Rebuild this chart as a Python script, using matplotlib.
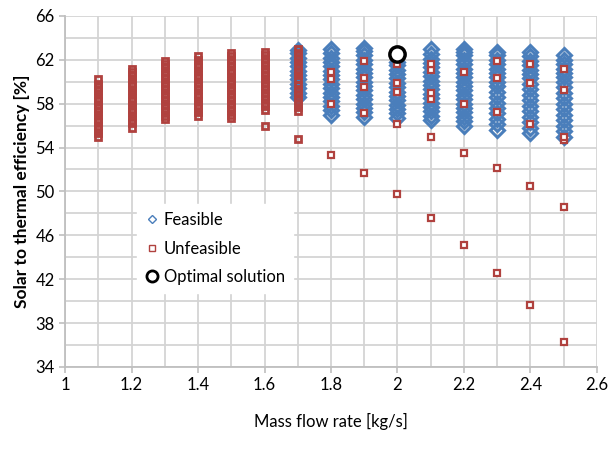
import numpy as np
import matplotlib.pyplot as plt
from matplotlib.lines import Line2D

plt.rcParams['font.family'] = ['Lato', 'DejaVu Sans']

# Mass flow rates [kg/s] of the columns
flow_unf = [1.1, 1.2, 1.3, 1.4, 1.5, 1.6, 1.7, 1.8, 1.9, 2.0, 2.1, 2.2, 2.3, 2.4, 2.5]
flow_feas = [1.7, 1.8, 1.9, 2.0, 2.1, 2.2, 2.3, 2.4, 2.5]

# Unfeasible points (efficiency %), one list per mass flow rate
unf_11 = [55.0, 55.3, 55.7, 56.0, 56.3, 56.6, 57.0, 57.3, 57.6, 57.9, 58.2, 58.5, 58.9, 59.2, 59.5, 59.8, 60.2]
unf_12 = [55.8, 56.2, 56.5, 56.9, 57.2, 57.5, 57.9, 58.2, 58.5, 58.9, 59.2, 59.6, 59.9, 60.2, 60.6, 60.9, 61.2]
unf_13 = [56.6, 56.9, 57.3, 57.6, 57.9, 58.3, 58.6, 58.9, 59.3, 59.6, 59.9, 60.3, 60.6, 60.9, 61.3, 61.6, 61.9]
unf_14 = [56.9, 57.2, 57.6, 57.9, 58.2, 58.6, 58.9, 59.3, 59.6, 59.9, 60.3, 60.6, 61.0, 61.3, 61.6, 62.0, 62.3]
unf_15 = [56.7, 57.0, 57.4, 57.7, 58.0, 58.3, 58.6, 58.9, 59.2, 59.5, 59.8, 60.1, 60.4, 60.8, 61.1, 61.4, 61.7, 62.0, 62.3, 62.6]
unf_16 = [56.0, 57.4, 57.8, 58.1, 58.4, 58.7, 59.0, 59.3, 59.6, 59.9, 60.2, 60.6, 60.9, 61.2, 61.5, 61.8, 62.1, 62.4, 62.7]
unf_17 = [54.8, 57.3, 57.7, 58.1, 58.5, 58.9, 59.3, 59.7, 60.2, 60.6, 61.0, 61.4, 61.8, 62.2, 62.6, 63.0]
unf_18 = [53.3, 58.0, 60.2, 60.9]
unf_19 = [51.7, 57.1, 59.5, 60.3, 61.9]
unf_20 = [49.8, 56.1, 59.1, 59.9, 61.6]
unf_21 = [47.6, 55.0, 58.4, 59.0, 61.1, 61.6]
unf_22 = [45.1, 53.5, 58.0, 60.9]
unf_23 = [42.6, 52.1, 57.2, 60.3, 61.9]
unf_24 = [39.6, 50.5, 56.1, 59.9, 61.6]
unf_25 = [36.3, 48.6, 54.7, 55.0, 59.2, 61.2]

# Feasible points (efficiency %), one list per mass flow rate
feas_17 = [58.6, 59.0, 59.4, 59.8, 60.2, 60.6, 61.0, 61.4, 61.8, 62.2, 62.6, 62.9]
feas_18 = [57.0, 57.4, 57.8, 58.2, 58.6, 59.0, 59.4, 59.8, 60.2, 60.6, 61.0, 61.4, 61.8, 62.2, 62.6, 63.0]
feas_19 = [56.8, 57.2, 57.6, 58.0, 58.4, 58.8, 59.2, 59.6, 60.0, 60.4, 60.8, 61.2, 61.6, 62.0, 62.4, 62.8, 63.1]
feas_20 = [56.7, 57.1, 57.5, 57.9, 58.3, 58.7, 59.1, 59.5, 59.9, 60.3, 60.7, 61.1, 61.5, 61.8]
feas_21 = [56.5, 56.9, 57.3, 57.7, 58.1, 58.5, 58.9, 59.3, 59.7, 60.1, 60.5, 60.9, 61.3, 61.7, 62.1, 62.5, 63.0]
feas_22 = [56.0, 56.4, 56.8, 57.2, 57.6, 58.0, 58.4, 58.8, 59.2, 59.6, 60.0, 60.4, 60.8, 61.2, 61.6, 62.0, 62.4, 62.7, 63.0]
feas_23 = [55.6, 56.1, 56.6, 57.1, 57.6, 58.1, 58.6, 59.1, 59.6, 60.0, 60.4, 60.8, 61.2, 61.6, 62.0, 62.4, 62.7]
feas_24 = [55.3, 55.8, 56.3, 56.8, 57.3, 57.8, 58.3, 58.8, 59.3, 59.8, 60.3, 60.7, 61.1, 61.5, 61.9, 62.3, 62.7]
feas_25 = [55.0, 55.5, 56.0, 56.5, 57.0, 57.5, 58.0, 58.5, 59.0, 59.5, 60.0, 60.4, 60.8, 61.2, 61.6, 62.0, 62.4]

# Optimal solution
opt_flow = [2.0]
opt_eff = [62.5]

unf_cols = [unf_11, unf_12, unf_13, unf_14, unf_15, unf_16, unf_17, unf_18,
            unf_19, unf_20, unf_21, unf_22, unf_23, unf_24, unf_25]
feas_cols = [feas_17, feas_18, feas_19, feas_20, feas_21, feas_22, feas_23, feas_24, feas_25]

blue = '#4a7ebb'
red = '#b0413e'

fig, ax = plt.subplots(figsize=(6.09, 4.53), dpi=100)
fig.subplots_adjust(left=0.107, right=0.980, top=0.965, bottom=0.19)

for x, ys in zip(flow_feas, feas_cols):
    ax.plot([x] * len(ys), ys, linestyle='none', marker='D', markersize=6.8,
            markerfacecolor='none', markeredgecolor=blue, markeredgewidth=2.2)

for x, ys in zip(flow_unf, unf_cols):
    # dense columns blend into a solid bar, sparse ones keep a white centre
    dense = len(ys) > 10
    ax.plot([x] * len(ys), ys, linestyle='none', marker='s', markersize=4.5,
            markerfacecolor='none' if dense else 'white', markeredgecolor=red,
            markeredgewidth=2.0 if dense else 1.6)

ax.plot(opt_flow, opt_eff, linestyle='none', marker='o', markersize=11,
        markerfacecolor='white', markeredgecolor='black', markeredgewidth=2.5)

ax.set_xlim(1, 2.6)
ax.set_ylim(34, 66)
ax.set_xticks(np.arange(1, 2.61, 0.2))
ax.set_xticklabels(['1', '1.2', '1.4', '1.6', '1.8', '2', '2.2', '2.4', '2.6'])
ax.set_xticks(np.arange(1.1, 2.6, 0.2), minor=True)
ax.set_yticks(np.arange(34, 67, 4))
ax.set_yticks(np.arange(36, 66, 4), minor=True)
ax.grid(True, which='both', color='#d4d4d4', linewidth=1.3)
ax.set_axisbelow(True)
ax.tick_params(which='major', labelsize=12, color='#bfbfbf', length=4, width=1.2)
ax.tick_params(which='minor', length=0)
for s in ['top', 'right']:
    ax.spines[s].set_visible(False)
for s in ['left', 'bottom']:
    ax.spines[s].set_color('#bfbfbf')
    ax.spines[s].set_linewidth(1.3)

ax.set_xlabel('Mass flow rate [kg/s]', fontsize=12, labelpad=14)
ax.set_ylabel('Solar to thermal efficiency [%]', fontsize=12.5, fontweight='bold', labelpad=4)

handles = [
    Line2D([], [], linestyle='none', marker='D', markersize=4.5, markerfacecolor='white',
           markeredgecolor=blue, markeredgewidth=1),
    Line2D([], [], linestyle='none', marker='s', markersize=4, markerfacecolor='white',
           markeredgecolor=red, markeredgewidth=1),
    Line2D([], [], linestyle='none', marker='o', markersize=8, markerfacecolor='white',
           markeredgecolor='black', markeredgewidth=2),
]
leg = ax.legend(handles, ['Feasible', 'Unfeasible', 'Optimal solution'],
                loc='upper left', bbox_to_anchor=(0.135, 0.465), fontsize=12,
                frameon=True, fancybox=False, framealpha=1, edgecolor='white',
                handlelength=0.8, handletextpad=0.3, labelspacing=0.75,
                borderpad=0.5, borderaxespad=0)

plt.savefig('out.png', dpi=100)
